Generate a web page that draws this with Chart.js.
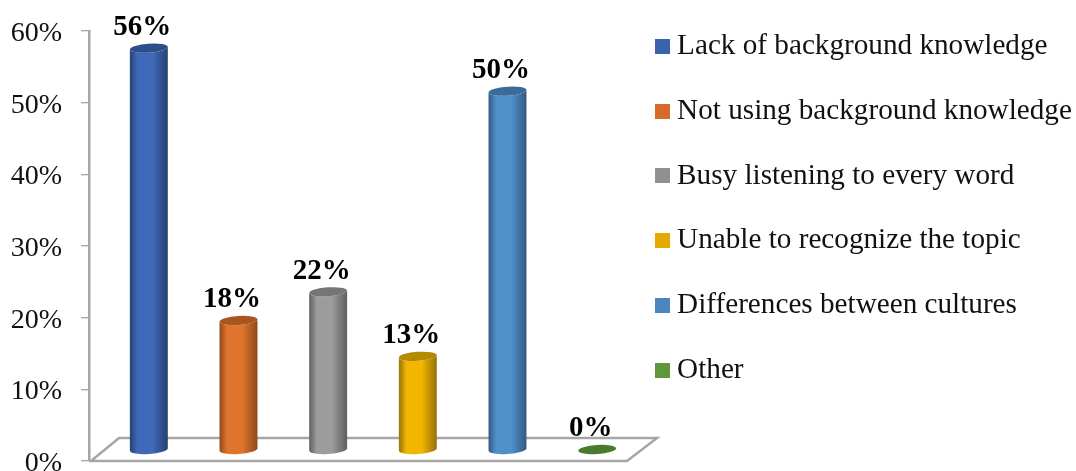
<!DOCTYPE html>
<html>
<head>
<meta charset="utf-8">
<title>Listening problems</title>
<script src="https://cdn.jsdelivr.net/npm/chart.js@4"></script>
<style>
    html, body { margin: 0; padding: 0; background: #fff; overflow: hidden; }
    canvas { display: block; }
</style>
</head>
<body>
<canvas id="myChart" width="1076" height="471"></canvas>
<script>
// data
const categories = ['Lack of background knowledge', 'Not using background knowledge', 'Busy listening to every word',
    'Unable to recognize the topic', 'Differences between cultures', 'Other'];
const values = [56, 18, 22, 13, 50, 0];
const tickValues = [0, 10, 20, 30, 40, 50, 60];

// body colour, dark edge colour, top cap colour
const barColors = ['#3f69b8', '#e0742c', '#9c9c9c', '#f2b600', '#5090cb', '#639d3e'];
const edgeColors = ['#25426f', '#8c4a1c', '#5e5e5e', '#96700a', '#325a80', '#3d6126'];
const capColors = ['#2c4f8c', '#a8561d', '#757575', '#b58900', '#3b6b99', '#4a7a2e'];
const legendColors = ['#3a63ad', '#d66a2a', '#909090', '#e5a900', '#4a85be', '#5f983a'];

const axisColor = '#a6a6a6';
const textColor = '#111';
const depthX = 30, depthY = 23; // depth of the 3d floor
const tilt = -0.07;

function swatch(color) {
    const c = document.createElement('canvas');
    c.width = 15;
    c.height = 15;
    const g = c.getContext('2d');
    g.fillStyle = color;
    g.fillRect(0, 0, 15, 15);
    return c;
}

// floor + cylinders, replaces the flat bars
const cylinders = {
    id: 'cylinders',
    beforeDatasetsDraw(chart) {
        const ctx = chart.ctx;
        const area = chart.chartArea;
        const y0 = chart.scales.y.getPixelForValue(0);

        ctx.save();
        ctx.strokeStyle = axisColor;
        ctx.lineWidth = 2.5;
        ctx.beginPath();
        ctx.moveTo(area.left + 2, y0);
        ctx.lineTo(area.left + depthX, y0 - depthY);
        ctx.lineTo(area.right + depthX, y0 - depthY);
        ctx.lineTo(area.right, y0);
        ctx.lineTo(area.left, y0);
        ctx.stroke();

        chart.getDatasetMeta(0).data.forEach(function (bar, i) {
            const x = bar.x + depthX / 2;
            const r = bar.width / 2;
            const bottom = y0 - depthY / 2;
            const top = bar.y - depthY / 2;

            if (values[i] > 0) {
                const grad = ctx.createLinearGradient(x - r, 0, x + r, 0);
                grad.addColorStop(0, edgeColors[i]);
                grad.addColorStop(0.2, barColors[i]);
                grad.addColorStop(0.6, barColors[i]);
                grad.addColorStop(1, edgeColors[i]);
                ctx.fillStyle = grad;
                ctx.beginPath();
                ctx.ellipse(x, top, r, 4.5, tilt, Math.PI, 0, true);
                ctx.ellipse(x, bottom, r, 4.5, tilt, 0, Math.PI);
                ctx.closePath();
                ctx.fill();
            }

            ctx.fillStyle = capColors[i];
            ctx.beginPath();
            ctx.ellipse(x, top, r, 4.5, tilt, 0, Math.PI * 2);
            ctx.fill();
        });
        ctx.restore();
        return false;
    },
    afterDraw(chart) {
        const ctx = chart.ctx;
        ctx.save();
        ctx.font = 'bold 29px "Liberation Serif"';
        ctx.fillStyle = '#000';
        ctx.textAlign = 'center';
        ctx.textBaseline = 'middle';
        chart.getDatasetMeta(0).data.forEach(function (bar, i) {
            ctx.fillText(values[i] + '%', bar.x + 8.5, bar.y - depthY / 2 - 20.5);
        });
        ctx.restore();
    },
    afterLayout(chart) {
        // legend sits partly over the floor depth
        chart.legend.left = 625.8;
        chart.legend.top = -4.2;
    }
};

Chart.defaults.font.family = '"Liberation Serif", serif';
Chart.defaults.animation = false;

const myChart = new Chart(document.getElementById('myChart'), {
    type: 'bar',
    data: {
        labels: categories,
        datasets: [{
            data: values,
            backgroundColor: barColors,
            categoryPercentage: 0.424,
            barPercentage: 1,
        }],
    },
    options: {
        responsive: false,
        layout: { autoPadding: false, padding: { top: 31, bottom: 10, left: 0, right: 0 } },
        plugins: {
            tooltip: { enabled: false },
            legend: {
                position: 'right',
                align: 'start',
                maxWidth: 449,
                labels: {
                    color: textColor,
                    font: { size: 29.2 },
                    padding: 35.7,
                    usePointStyle: true,
                    pointStyleWidth: 1,
                    generateLabels() {
                        return categories.map(function (name, i) {
                            return { text: name, pointStyle: swatch(legendColors[i]), fontColor: textColor, index: i };
                        });
                    },
                },
            },
        },
        scales: {
            x: { display: false },
            y: {
                min: 0,
                max: 60,
                afterFit(scale) {
                    scale.width = 89;
                    scale.paddingTop = 0;
                    scale.paddingBottom = 0;
                },
                afterBuildTicks(scale) { scale.ticks = tickValues.map(function (v) { return { value: v }; }); },
                border: { color: axisColor, width: 2.5 },
                grid: { drawOnChartArea: false, tickLength: 8, tickColor: axisColor, lineWidth: 1.3 },
                ticks: {
                    color: textColor,
                    font: { size: 28 },
                    padding: 19,
                    labelOffset: 2.5,
                    callback(v) { return v + '%'; },
                },
            },
        },
    },
    plugins: [cylinders],
});
</script>
</body>
</html>
